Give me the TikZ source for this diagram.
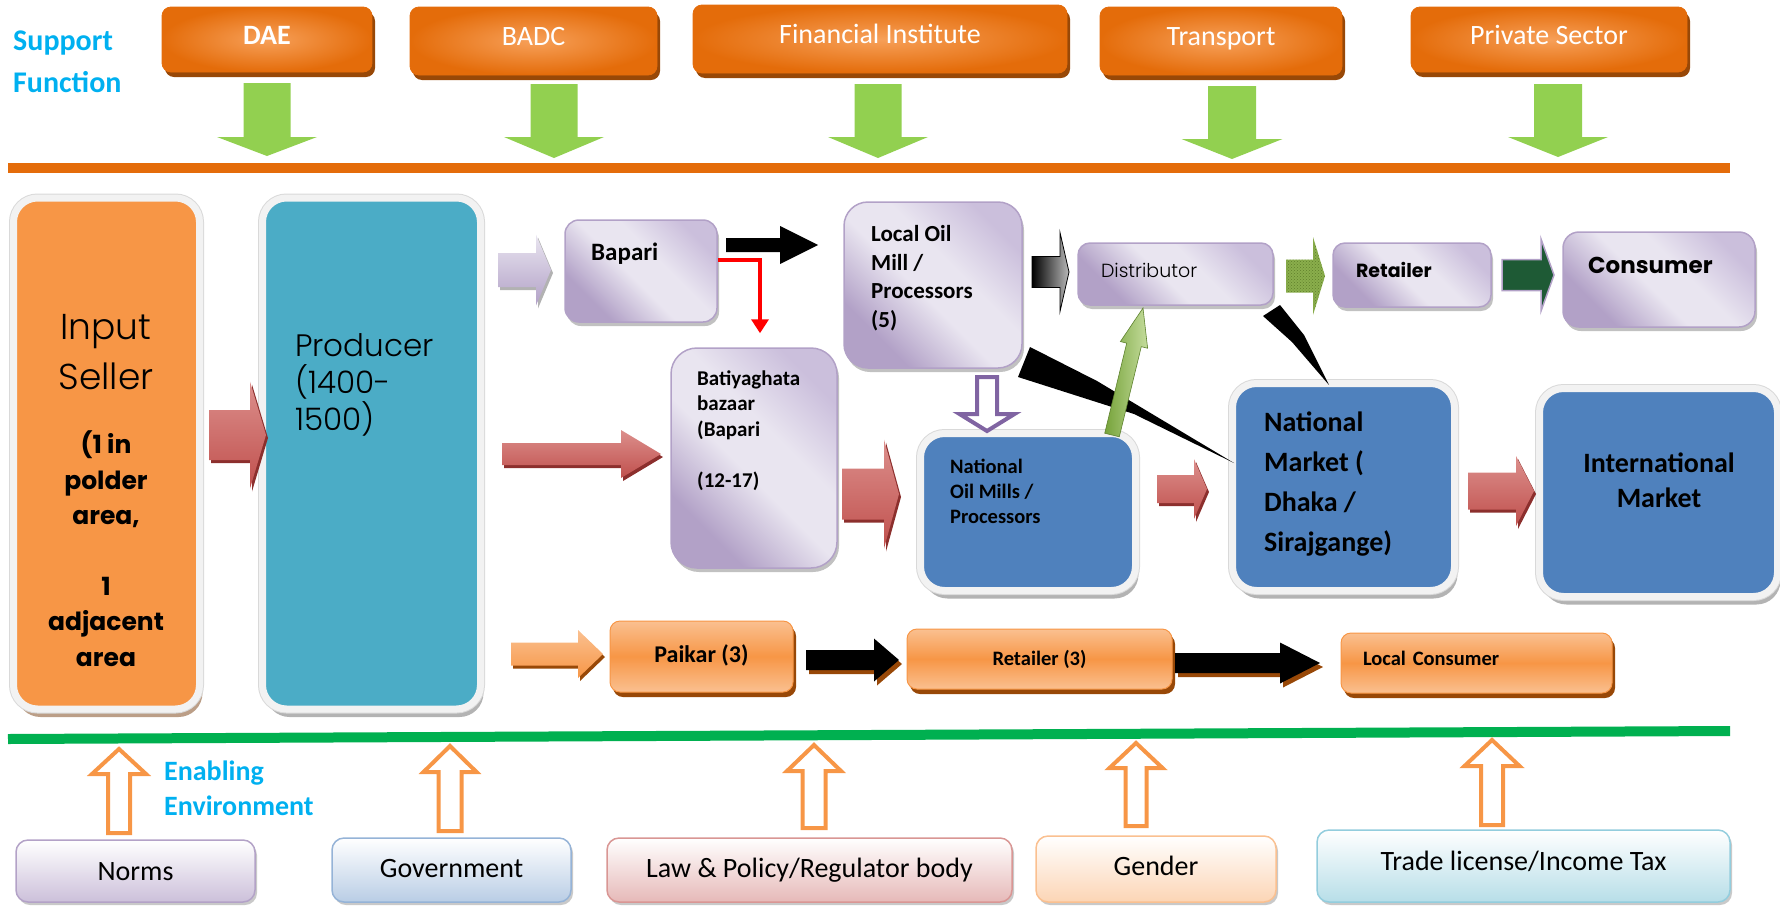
\documentclass[tikz,border=0pt]{standalone}
\usepackage{fontspec}
\setmainfont{Carlito}
\newfontfamily\gothr{Poppins}
\IfFontExistsTF{Poppins Light}{\newfontfamily\gothl{Poppins Light}}{\newfontfamily\gothl{Poppins}}
\usetikzlibrary{calc,arrows.meta,shadows,patterns}

\definecolor{orD}{HTML}{E46C0A}
\definecolor{orC}{HTML}{F7A059}
\definecolor{orM}{HTML}{F79646}
\definecolor{orL}{HTML}{FAC090}
\definecolor{orS}{HTML}{984807}
\definecolor{cyanT}{HTML}{00B0F0}
\definecolor{grnA}{HTML}{92D050}
\definecolor{grnL}{HTML}{00B050}
\definecolor{lavL}{HTML}{E9E5F0}
\definecolor{lavM}{HTML}{CBBFDC}
\definecolor{lavD}{HTML}{B2A1C7}
\definecolor{purp}{HTML}{8064A2}
\definecolor{tealB}{HTML}{4BACC6}
\definecolor{bluB}{HTML}{4F81BD}
\definecolor{redA}{HTML}{C0504D}
\definecolor{redL}{HTML}{DC8F8C}
\definecolor{redS}{HTML}{8C2F2D}
\definecolor{glow}{HTML}{F2F2F2}
\definecolor{oliveA}{HTML}{8AAE4C}
\definecolor{oliveD}{HTML}{5F7F2A}
\definecolor{forest}{HTML}{1E5A35}
\definecolor{lgrnD}{HTML}{76A33A}
\definecolor{lgrnL}{HTML}{C4DC9C}
\definecolor{nrmB}{HTML}{CCC0DA}
\definecolor{nrmD}{HTML}{B3A2C7}
\definecolor{govB}{HTML}{B9CDE5}
\definecolor{govD}{HTML}{95B3D7}
\definecolor{lawB}{HTML}{E6B9B8}
\definecolor{lawD}{HTML}{D99694}
\definecolor{genB}{HTML}{FCD5B5}
\definecolor{genD}{HTML}{FAC090}
\definecolor{trdB}{HTML}{B7DEE8}
\definecolor{trdD}{HTML}{93CDDD}

\pgfdeclarehorizontalshading{lavshade}{100bp}{color(0bp)=(lavD); color(28bp)=(lavD); color(46bp)=(lavL); color(58bp)=(lavL); color(75bp)=(lavM); color(100bp)=(lavM)}

\newcommand\fs[2]{\fontsize{#1}{#2}\selectfont}
% block arrow: style, tail, tip, shaft half-width, head half-width, head length
\newcommand\blockarrow[6]{%
  \coordinate (bahead) at ($(#3)!#6!(#2)$);
  \path[#1] ($(#2)!#4!90:(#3)$) -- ($(bahead)!#4!90:(#3)$) -- ($(bahead)!#5!90:(#3)$) -- (#3)
    -- ($(bahead)!#5!-90:(#3)$) -- ($(bahead)!#4!-90:(#3)$) -- ($(#2)!#4!-90:(#3)$) -- cycle;}

\begin{document}
\begin{tikzpicture}[x=1pt, y=-1pt, line join=miter,
  topbox/.style={rounded corners=9pt, inner color=orC, outer color=orD, draw=orD, line width=0.8pt,
    text=white, font=\fs{28}{34}, text height=19pt, text depth=10pt,
    drop shadow={shadow xshift=3pt, shadow yshift=-5pt, fill=orS, opacity=1}},
  bigbox/.style={rounded corners=24pt,
    drop shadow={shadow xshift=3pt, shadow yshift=-8pt, fill=#1, opacity=.6},
    preaction={draw=gray!30, line width=9pt}, draw=glow, line width=7pt},
  lavbox/.style={rounded corners=#1, shading=lavshade, shading angle=45, draw=lavD, line width=1.5pt,
    drop shadow={shadow xshift=2pt, shadow yshift=-4pt, fill=gray!70, opacity=.7}},
  lavbox/.default=14pt,
  orbox/.style={rounded corners=10pt, top color=orL, bottom color=orL, middle color=orM, draw=orM, line width=1pt,
    drop shadow={shadow xshift=3pt, shadow yshift=-5pt, fill=orS, opacity=1}},
  envbox/.style={rounded corners=12pt, top color=white, line width=1.5pt, font=\fs{28}{34},
    text height=19pt, text depth=5pt,
    drop shadow={shadow xshift=2pt, shadow yshift=-3pt, fill=gray!60, opacity=.7}},
  txt/.style={inner sep=0pt, align=left},
  redarr/.style={top color=redL, bottom color=redA, preaction={fill=redS, transform canvas={shift={(2pt,-3pt)}}}},
  orarr/.style={top color=orL, bottom color=orM, preaction={fill=orS, transform canvas={shift={(2pt,-3pt)}}}},
  lavarr/.style={top color=lavL, bottom color=lavD, preaction={fill=gray!60, transform canvas={shift={(2pt,-3pt)}}}},
  grnarr/.style={fill=grnA},
  blkarr/.style={fill=black},
  blkshd/.style={fill=black, preaction={fill=orS, transform canvas={shift={(3pt,-4pt)}}}},
  gradarr/.style={left color=black, right color=gray!55, draw=black, line width=0.8pt},
  dotarr/.style={fill=oliveA, postaction={pattern=crosshatch dots, pattern color=oliveD}},
  forestarr/.style={fill=forest, draw=lavD, line width=1.5pt},
  uparr/.style={left color=lgrnD, right color=lgrnL, draw=lgrnD!80!black, line width=0.6pt},
  hollow/.style={fill=white, draw=orM, line width=4pt},
  hollowp/.style={fill=white, draw=purp, line width=4pt},
  redline/.style={draw=red, line width=4pt, -{Triangle[width=17pt,length=14pt]}},
  wedge/.style={fill=black}
]
\useasboundingbox (0,0) rectangle (1780,908);

% ---------- support functions ----------
% multi-line texts are placed by the baseline of their last line
\node[txt, anchor=base west, text=cyanT, font=\bfseries\fs{30}{42}] (support) at (13,92) {Support\\Function};

\node[topbox, font=\bfseries\fs{28}{34}, minimum width=210pt, minimum height=65pt] (dae) at (267,39.5) {DAE};
\node[topbox, minimum width=247pt, minimum height=68pt] (badc) at (533.5,41) {BADC};
\node[topbox, minimum width=374pt, minimum height=68pt] (fin) at (880,39) {Financial Institute};
\node[topbox, minimum width=242pt, minimum height=68pt] (transport) at (1221,41) {Transport};
\node[topbox, minimum width=276pt, minimum height=65pt] (private) at (1549,39.5) {Private Sector};

\path (267,83) coordinate (g1a) (267,156) coordinate (g1b)
      (554,84) coordinate (g2a) (554,158) coordinate (g2b)
      (878,84) coordinate (g3a) (878,158) coordinate (g3b)
      (1232,86) coordinate (g4a) (1232,159) coordinate (g4b)
      (1558,84) coordinate (g5a) (1558,157) coordinate (g5b);
\blockarrow{grnarr}{g1a}{g1b}{23.5pt}{50pt}{19pt}
\blockarrow{grnarr}{g2a}{g2b}{23.5pt}{50pt}{21pt}
\blockarrow{grnarr}{g3a}{g3b}{23.5pt}{50pt}{21pt}
\blockarrow{grnarr}{g4a}{g4b}{24pt}{50.5pt}{20pt}
\blockarrow{grnarr}{g5a}{g5b}{24pt}{50pt}{20pt}

\draw[orD, line width=10pt] (8,168) -- (1730,168);

% ---------- value chain ----------
\node[bigbox=orS!60!gray, fill=orM, minimum width=186pt, minimum height=511pt] (input) at (106.5,453.5) {};
\node[bigbox=gray, fill=tealB, minimum width=218pt, minimum height=511pt] (producer) at (371.5,453.5) {};
\node[bigbox=gray, fill=bluB, minimum width=215pt, minimum height=157pt] (natoil) at (1028,512) {};
\node[bigbox=gray, fill=bluB, minimum width=222pt, minimum height=207pt] (natmkt) at (1343.5,487) {};
\node[bigbox=gray, fill=bluB, minimum width=238pt, minimum height=208pt] (intmkt) at (1658.5,492.5) {};

\node[lavbox=14pt, minimum width=152pt, minimum height=102pt] (bapari) at (641,271) {};
\node[lavbox=24pt, minimum width=178pt, minimum height=166pt] (localoil) at (933,285) {};
\node[lavbox=26pt, minimum width=166pt, minimum height=220pt] (batiya) at (754,458) {};
\node[lavbox=12pt, text width=149pt, inner xsep=23pt, inner ysep=0pt, minimum height=62pt, align=left,
      font=\gothl\fs{19}{23}, text height=14pt, text depth=8pt] (distrib) at (1175.5,274) {Distributor};
\node[lavbox=12pt, text width=112pt, inner xsep=23pt, inner ysep=0pt, minimum height=64pt, align=left,
      font=\gothr\bfseries\fs{19}{23}, text height=14pt, text depth=10pt] (retail) at (1412,275) {Retailer};
\node[lavbox=16pt, minimum width=192pt, minimum height=95pt] (consumer) at (1659,279.5) {};

\node[orbox, minimum width=183pt, minimum height=71pt, font=\bfseries\fs{24}{28},
      text height=17pt, text depth=6pt] (paikar) at (701.5,656.5) {Paikar (3)};
\node[orbox, minimum width=265pt, minimum height=60pt, font=\bfseries\fs{20.5}{24},
      text height=15pt, text depth=3pt] (retail3) at (1039.5,659) {Retailer (3)};
\node[orbox, text width=227pt, inner xsep=22pt, inner ysep=0pt, minimum height=60pt, align=left,
      font=\bfseries\fs{20.5}{24}, text height=15pt, text depth=11pt] (localcons) at (1476.5,663) {Local Consumer};

% box texts
\node[txt, anchor=base, align=center, font=\gothl\fs{36}{50}] (input-t) at (106,389) {Input\\Seller};
\node[txt, anchor=base, align=center, font=\gothr\bfseries\fs{25}{35.5}] (input-n) at (106,666)
  {(1 in\\polder\\area,\\[35pt]1\\adjacent\\area};
\node[txt, anchor=base west, font=\gothl\fs{31}{37}] (producer-t) at (295,430) {Producer\\(1400-\\1500)};
\node[txt, anchor=base west, font=\bfseries\fs{25}{30}] (bapari-t) at (591,260) {Bapari};
\node[txt, anchor=base west, font=\bfseries\fs{23}{28.5}] (localoil-t) at (871,327) {Local Oil\\Mill /\\Processors\\(5)};
\node[txt, anchor=base west, font=\bfseries\fs{21}{25.5}] (batiya-t) at (697,487) {Batiyaghata\\bazaar\\(Bapari\\[25.5pt](12-17)};
\node[txt, anchor=base west, font=\bfseries\fs{20.5}{25}] (natoil-t) at (950,523) {National\\Oil Mills /\\Processors};
\node[txt, anchor=base west, font=\gothr\bfseries\fs{23}{28}] (consumer-t) at (1588,273) {Consumer};
\node[txt, anchor=base west, font=\bfseries\fs{28}{40}] (natmkt-t) at (1264,551) {National\\Market (\\Dhaka /\\Sirajgange)};
\node[txt, anchor=base, align=center, font=\bfseries\fs{28}{35}] (intmkt-t) at (1659,507) {International\\Market};

% flows between the actors
\path (209,435) coordinate (r1a) (266,435) coordinate (r1b)
      (502,454) coordinate (r2a) (661,454) coordinate (r2b)
      (842,494) coordinate (r3a) (899,494) coordinate (r3b)
      (1157,489) coordinate (r4a) (1207,489) coordinate (r4b)
      (1468,491) coordinate (r5a) (1534,491) coordinate (r5b);
\blockarrow{redarr}{r1a}{r1b}{25pt}{53.5pt}{16pt}
\blockarrow{redarr}{r2a}{r2b}{11pt}{24pt}{40pt}
\blockarrow{redarr}{r3a}{r3b}{25.5pt}{54.5pt}{15pt}
\blockarrow{redarr}{r4a}{r4b}{14pt}{30pt}{13pt}
\blockarrow{redarr}{r5a}{r5b}{18.5pt}{35pt}{18pt}

\path (498,270) coordinate (l1a) (551,270) coordinate (l1b)
      (726,245) coordinate (k1a) (818,245) coordinate (k1b)
      (1032,272) coordinate (k2a) (1069,272) coordinate (k2b)
      (1286,276) coordinate (h1a) (1325,276) coordinate (h1b)
      (1502,275) coordinate (d1a) (1554,275) coordinate (d1b)
      (987,377) coordinate (p1a) (987,431) coordinate (p1b)
      (1112,435) coordinate (s1a) (1143,308) coordinate (s1b)
      (511,654) coordinate (o1a) (603,654) coordinate (o1b)
      (806,660) coordinate (k3a) (899,660) coordinate (k3b)
      (1175,663) coordinate (k4a) (1320,663) coordinate (k4b);
\blockarrow{lavarr}{l1a}{l1b}{17pt}{35.5pt}{15pt}
\blockarrow{blkarr}{k1a}{k1b}{7pt}{19pt}{38pt}
\blockarrow{gradarr}{k2a}{k2b}{15.5pt}{39.5pt}{9pt}
\blockarrow{dotarr}{h1a}{h1b}{16.5pt}{39pt}{12pt}
\blockarrow{forestarr}{d1a}{d1b}{15.5pt}{36pt}{13pt}
\blockarrow{hollowp}{p1a}{p1b}{10pt}{27.5pt}{17pt}

% black wedges towards the national market
\path[wedge] (1030,347) -- (1097,381) -- (1234,463) -- (1134,414) -- (1018,377) -- cycle;
\path[wedge] (1280,305) -- (1304,335) -- (1329,385) -- (1292,342) -- (1263,316) -- cycle;
\blockarrow{uparr}{s1a}{s1b}{7.5pt}{14pt}{38pt}

\draw[redline] ([yshift=11pt]bapari.east) -| ([xshift=6pt,yshift=14pt]batiya.north);

\blockarrow{orarr}{o1a}{o1b}{11.5pt}{24pt}{25pt}
\blockarrow{blkshd}{k3a}{k3b}{10pt}{21.5pt}{25pt}
\blockarrow{blkshd}{k4a}{k4b}{10pt}{20.5pt}{40pt}

% ---------- enabling environment ----------
\draw[grnL, line width=10pt] (8,739) -- (1730,731);

\node[txt, anchor=base west, text=cyanT, font=\bfseries\fs{28}{35}] (enabling) at (164,815) {Enabling\\Environment};

\node[envbox, bottom color=nrmB, draw=nrmD, minimum width=239pt, minimum height=62pt, text height=20pt, text depth=2pt] (norms) at (135.5,871) {Norms};
\node[envbox, bottom color=govB, draw=govD, minimum width=239pt, minimum height=64pt] (govt) at (451.5,870) {Government};
\node[envbox, bottom color=lawB, draw=lawD, minimum width=405pt, minimum height=64pt] (law) at (809.5,870) {Law \& Policy/Regulator body};
\node[envbox, bottom color=genB, draw=genD, minimum width=240pt, minimum height=66pt, text height=18pt, text depth=6pt] (gender) at (1156,869) {Gender};
\node[envbox, bottom color=trdB, draw=trdD, minimum width=413pt, minimum height=72pt, text height=18pt, text depth=10pt] (trade) at (1523.5,866) {Trade license/Income Tax};

\path (119,833) coordinate (e1a) (119,749) coordinate (e1b)
      (450,831) coordinate (e2a) (450,746) coordinate (e2b)
      (814,828) coordinate (e3a) (814,745) coordinate (e3b)
      (1136,826) coordinate (e4a) (1136,743) coordinate (e4b)
      (1492,825) coordinate (e5a) (1492,740) coordinate (e5b);
\blockarrow{hollow}{e1a}{e1b}{11pt}{27pt}{25pt}
\blockarrow{hollow}{e2a}{e2b}{11.5pt}{26.5pt}{26pt}
\blockarrow{hollow}{e3a}{e3b}{11.5pt}{27pt}{26pt}
\blockarrow{hollow}{e4a}{e4b}{10.5pt}{26.5pt}{25pt}
\blockarrow{hollow}{e5a}{e5b}{11pt}{27.5pt}{26pt}
\end{tikzpicture}
\end{document}
